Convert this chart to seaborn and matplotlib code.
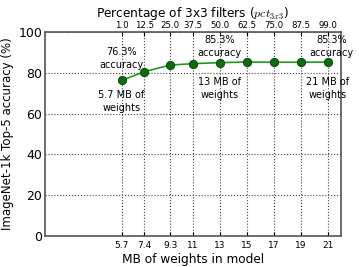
import pandas as pd
import matplotlib
matplotlib.use("Agg")
import matplotlib.pyplot as plt
import seaborn as sns

# Data
mb_weights = [5.7, 7.4, 9.3, 11, 13, 15, 17, 19, 21]
top5_acc = [76.3, 80.6, 83.8, 84.5, 85.0, 85.3, 85.2, 85.2, 85.3]
pct_3x3 = ["1.0", "12.5", "25.0", "37.5", "50.0", "62.5", "75.0", "87.5", "99.0"]
x_ticklabels = ["5.7", "7.4", "9.3", "11", "13", "15", "17", "19", "21"]

df = pd.DataFrame({"mb": mb_weights, "acc": top5_acc})

sns.set_style("white")
plt.rcParams["font.family"] = ["DejaVu Sans"]
plt.rcParams["mathtext.fontset"] = "cm"
plt.rcParams["text.color"] = "black"
plt.rcParams["axes.labelcolor"] = "black"
plt.rcParams["xtick.color"] = "black"
plt.rcParams["ytick.color"] = "black"

fig = plt.figure(figsize=(3.59, 2.67), dpi=100)
ax = fig.add_axes([0.125, 0.116, 0.825, 0.764])

sns.lineplot(data=df, x="mb", y="acc", ax=ax, color="#1f9a1f", linewidth=1.2,
             marker="o", markersize=6, markerfacecolor="#0a6e0a",
             markeredgecolor="#0b3d0b", markeredgewidth=0.6)

ax.set_xlim(0, 22)
ax.set_ylim(0, 100)
ax.set_xticks(mb_weights)
ax.set_xticklabels(x_ticklabels, fontsize=6.5)
ax.set_yticks([0, 20, 40, 60, 80, 100])
ax.tick_params(axis="y", labelsize=9, length=3, direction="in", pad=2)
ax.tick_params(axis="x", length=3, direction="in", pad=3.5)
ax.grid(True, linestyle=":", color="#444444", linewidth=0.8)
ax.set_xlabel("MB of weights in model", fontsize=8.7, labelpad=2)
ax.set_ylabel("ImageNet-1k Top-5 accuracy (%)", fontsize=8.5, labelpad=3)
for s in ax.spines.values():
    s.set_color("#555555")
    s.set_linewidth(1.2)

# top axis: percentage of 3x3 filters
ax2 = ax.twiny()
ax2.set_xlim(ax.get_xlim())
ax2.set_xticks(mb_weights)
ax2.set_xticklabels(pct_3x3, fontsize=6.2)
ax2.tick_params(axis="x", length=3, direction="in", pad=1.5)
ax2.set_xlabel("Percentage of 3x3 filters ($pct_{3x3}$)", fontsize=8.7, labelpad=2.5)
for s in ax2.spines.values():
    s.set_visible(False)

# annotations
kw = dict(ha="center", va="center", fontsize=7, linespacing=1.35)
ax.text(5.7, 87, "76.3%\naccuracy", **kw)
ax.text(5.7, 66, "5.7 MB of\nweights", **kw)
ax.text(13, 93, "85.3%\naccuracy", **kw)
ax.text(13, 72.5, "13 MB of\nweights", **kw)
ax.text(21.3, 93, "85.3%\naccuracy", **kw)
ax.text(21, 72.5, "21 MB of\nweights", **kw)

fig.savefig("out.png", dpi=100)
